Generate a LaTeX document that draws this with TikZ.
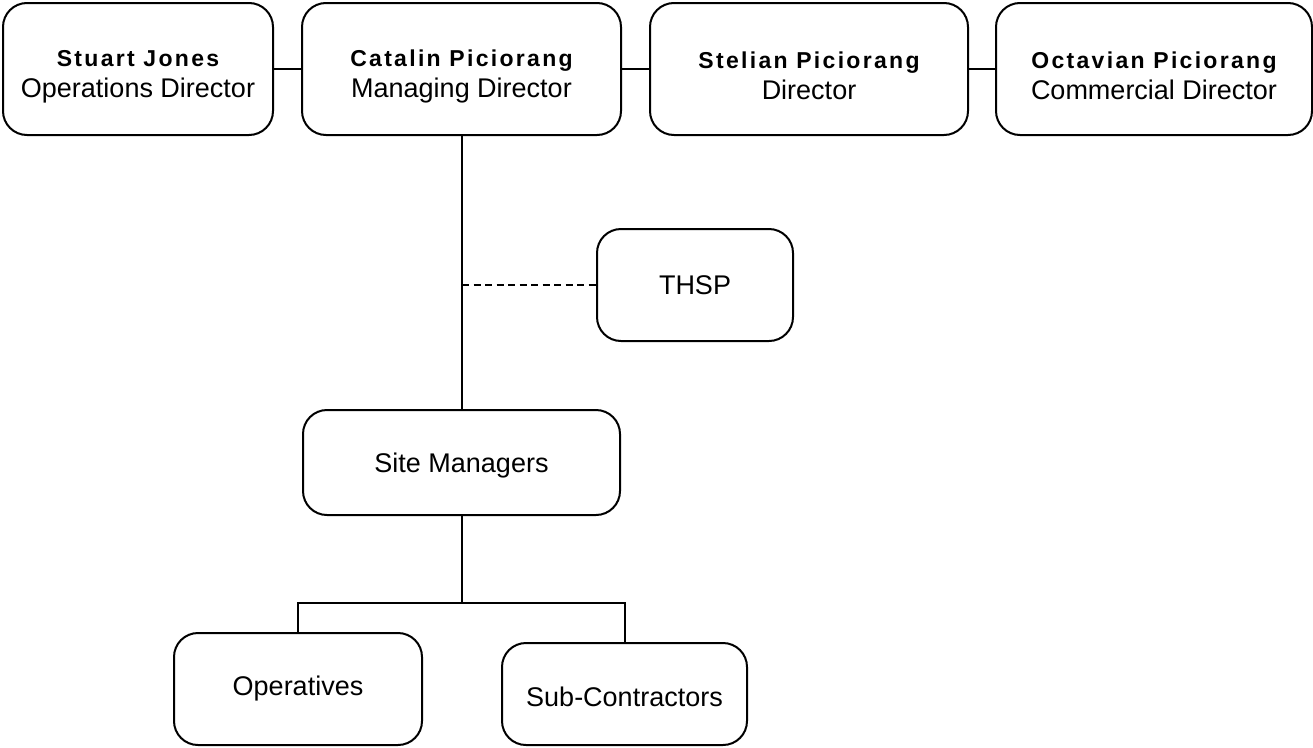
\documentclass[tikz,border=0pt]{standalone}
\usepackage{fontspec}
\setmainfont{Liberation Sans}
\newfontfamily\bspfam{Liberation Sans}[LetterSpace=10]
\tikzset{
  box/.style={draw, line width=2pt, rounded corners=24pt, inner sep=0pt, align=center, font=\fontsize{27}{31}\selectfont},
  conn/.style={line width=2pt},
  dconn/.style={line width=1.5pt, dash pattern=on 7pt off 4.5pt},
}
\newcommand\nmtxt[1]{{\bspfam\bfseries\fontsize{23}{31}\selectfont\rule{0pt}{31pt}#1}}
\newcommand\lowtxt[1]{\rule{0pt}{26pt}#1}
\begin{document}
\begin{tikzpicture}[x=1pt,y=-1pt]
\useasboundingbox (0,0) rectangle (1313,747);
\node[box, minimum width=270pt, minimum height=132pt] (sj) at (138,69) {\nmtxt{Stuart Jones}\\Operations Director};
\node[box, minimum width=319pt, minimum height=132pt] (cp) at (461.5,69) {\nmtxt{Catalin Piciorang}\\Managing Director};
\node[box, minimum width=318pt, minimum height=132pt] (sp) at (809,69) {\nmtxt{Stelian Piciorang}\\Director};
\node[box, minimum width=316pt, minimum height=132pt] (op) at (1154,69) {\nmtxt{Octavian Piciorang}\\Commercial Director};
\node[box, minimum width=196pt, minimum height=112pt] (thsp) at (695,285) {THSP};
\node[box, minimum width=317pt, minimum height=105pt] (sm) at (461.5,462.5) {\lowtxt{Site Managers}};
\node[box, minimum width=248pt, minimum height=112pt] (ops) at (298,689) {Operatives};
\node[box, minimum width=245pt, minimum height=102pt] (sub) at (624.5,694) {\lowtxt{Sub-Contractors}};
\coordinate (j) at (461.5,603);
\draw[conn] (sj.east) -- (cp.west);
\draw[conn] (cp.east) -- (sp.west);
\draw[conn] (sp.east) -- (op.west);
\draw[conn] (cp.south) -- (sm.north);
\draw[dconn] (cp.south) |- (thsp.west);
\draw[conn] (sm.south) -- (j);
\draw[conn] (ops.north) |- (j) -| (sub.north);
\end{tikzpicture}
\end{document}
